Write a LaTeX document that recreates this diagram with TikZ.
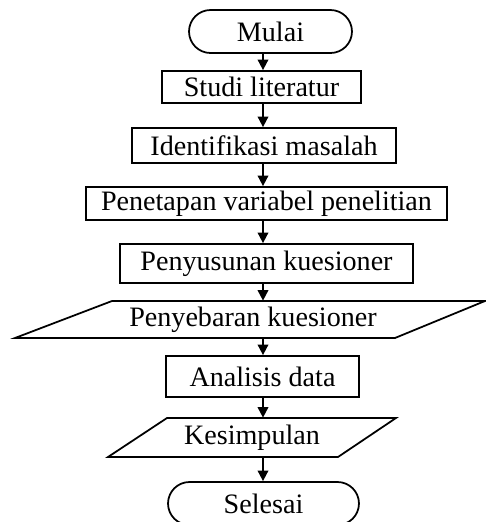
\documentclass[tikz,border=0pt]{standalone}
\usepackage{fontspec}
\setmainfont{Liberation Serif}
\usetikzlibrary{arrows.meta}

\begin{document}
\begin{tikzpicture}[
  x=0.02cm,
  y=-0.02cm,
  font=\fontsize{16}{18}\selectfont,
  box/.style={draw,line width=1pt,inner sep=0pt},
  terminal/.style={box,rounded corners=0.43cm},
  flowarrow/.style={line width=1pt,-{Triangle[length=6pt,width=6pt]}}
]
  \useasboundingbox (0,0) rectangle (485,522);
  \coordinate (axis) at (263,0);

  % Start and process boxes.
  \node[terminal,minimum width=3.26cm,minimum height=0.86cm]
    (mulai) at (270.5,31.5) {Mulai};
  \node[box,minimum width=3.98cm,minimum height=0.64cm]
    (studi) at (261.5,87) {Studi literatur};
  \node[box,minimum width=5.28cm,minimum height=0.70cm]
    (identifikasi) at (264,145.5) {Identifikasi masalah};
  \node[box,minimum width=7.22cm,minimum height=0.66cm]
    (penetapan) at (266.5,203.5) {Penetapan variabel penelitian};
  \node[box,minimum width=5.86cm,minimum height=0.78cm]
    (penyusunan) at (266.5,263.5) {Penyusunan kuesioner};

  % Input/output shapes.
  \draw[line width=1pt] (112,301) -- (485,301) -- (395,338)
    -- (15,338) -- cycle;
  \node[inner sep=0pt,minimum height=0.74cm]
    (penyebaran) at (253,319.5) {Penyebaran kuesioner};
  \node[box,minimum width=3.86cm,minimum height=0.82cm]
    (analisis) at (262.5,376.5) {Analisis data};
  \draw[line width=1pt] (167,418) -- (396,418) -- (338,457)
    -- (108,457) -- cycle;
  \node[inner sep=0pt,minimum height=0.78cm]
    (kesimpulan) at (252,437.5) {Kesimpulan};

  % End.
  \node[terminal,minimum width=3.82cm,minimum height=0.86cm]
    (selesai) at (263.5,503.5) {Selesai};

  % Arrows.
  \foreach \from/\to in {mulai/studi,studi/identifikasi,
    identifikasi/penetapan,penetapan/penyusunan,
    penyusunan/penyebaran,penyebaran/analisis,
    analisis/kesimpulan,kesimpulan/selesai}
    \draw[flowarrow] (\from.south -| axis) -- (\to.north -| axis);
\end{tikzpicture}
\end{document}
